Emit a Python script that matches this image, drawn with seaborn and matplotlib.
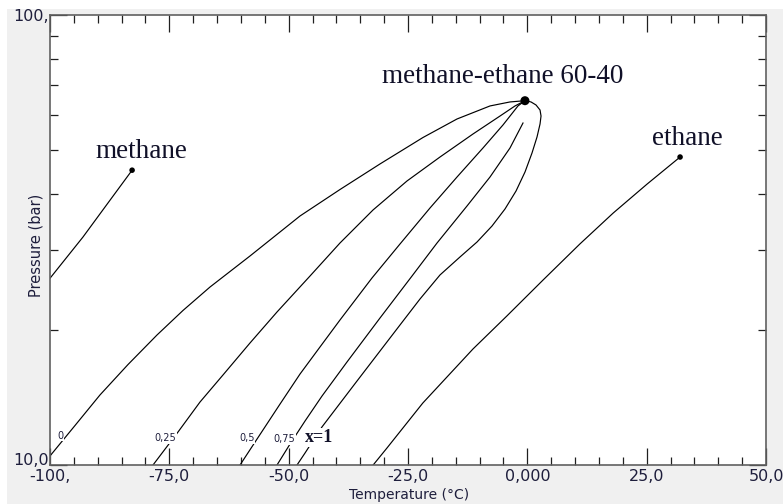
import matplotlib
matplotlib.use("Agg")
import matplotlib.pyplot as plt
import seaborn as sns
from matplotlib.ticker import FixedLocator, FixedFormatter, NullFormatter
from matplotlib.patches import Rectangle

# ---------------- data ----------------
methane_T = [-100.0, -93.1, -87.4, -82.8]
methane_P = [26.0, 32.1, 38.8, 45.2]

ethane_T = [-32.3, -29.4, -21.9, -11.4, -4.3, 3.3, 11.0, 18.0, 25.1, 32.0]
ethane_P = [10.0, 10.91, 13.73, 18.1, 21.43, 25.77, 30.98, 36.31, 42.11, 48.35]

mix_crit_T = -0.5
mix_crit_P = 64.5

q0_T = [-99.85, -94.76, -89.53, -83.66, -77.58, -72.14, -66.48, -58.1, -47.62,
        -39.24, -30.86, -21.86, -14.73, -7.82, -3.63, -0.5]
q0_P = [10.52, 12.24, 14.31, 16.72, 19.45, 22.05, 24.86, 29.14, 35.76,
        40.95, 46.67, 53.43, 58.74, 62.79, 64.09, 64.5]

q25_T = [-78.42, -73.18, -68.58, -63.76, -58.1, -52.44, -45.53, -39.25, -32.33,
         -25.21, -18.3, -11.38, -5.72, -2.58, -0.5]
q25_P = [10.0, 11.84, 13.8, 15.85, 18.67, 21.88, 26.3, 31.14, 36.87,
         42.77, 48.35, 54.4, 59.64, 62.79, 64.5]

q50_T = [-60.19, -56.63, -51.81, -47.62, -43.44, -39.25, -32.54, -26.68, -20.39,
         -14.73, -9.29, -5.1, -1.96, -0.5]
q50_P = [10.0, 11.42, 13.66, 15.93, 18.29, 21.0, 26.04, 30.98, 37.25,
         43.65, 50.64, 56.97, 62.79, 64.5]

q75_T = [-52.44, -49.72, -46.58, -43.02, -37.78, -30.86, -24.16, -18.92, -12.64,
         -7.82, -3.63, -0.91]
q75_P = [10.0, 11.13, 12.52, 14.23, 16.94, 21.22, 26.3, 31.14, 37.63,
         43.65, 50.64, 57.54]

q100_T = [-48.25, -46.58, -43.02, -35.68, -26.68, -22.49, -18.3, -14.11, -10.54,
          -7.4, -4.68, -2.37, -0.49, 0.98, 2.03, 2.66, 2.87, 2.66, 1.82, 0.77, -0.5]
q100_P = [10.0, 10.63, 12.15, 15.37, 20.47, 23.38, 26.44, 28.99, 31.3,
          33.97, 37.06, 40.63, 44.78, 49.36, 53.58, 57.25, 59.64, 61.5, 63.1, 64.09, 64.5]

x_ticks = [-100, -75, -50, -25, 0, 25, 50]
x_tick_labels = ["-100,", "-75,0", "-50,0", "-25,0", "0,000", "25,0", "50,0"]
y_ticks = [10, 100]
y_tick_labels = ["10,0", "100,"]

quality_labels = ["0", "0,25", "0,5", "0,75"]
quality_label_T = [-97.9, -75.8, -58.8, -51.0]
quality_label_P = [11.45, 11.3, 11.3, 11.25]

# ---------------- figure ----------------
W, H, DPI = 783, 504, 100
fig = plt.figure(figsize=(W / DPI, H / DPI), dpi=DPI, facecolor="#f0f0f0")
fig.patches.append(Rectangle((0, 1 - 9 / H), 1, 9 / H, transform=fig.transFigure,
                             facecolor="white", edgecolor="none", zorder=-5))
fig.patches.append(Rectangle((0, 0), 7 / W, 1, transform=fig.transFigure,
                             facecolor="white", edgecolor="none", zorder=-5))

ax = fig.add_axes([50 / W, 1 - 465 / H, 716 / W, 450 / H])
ax.set_facecolor("white")

line_kw = dict(color="black", linewidth=0.85, sort=False, estimator=None, ax=ax)
for T, P in [(methane_T, methane_P), (ethane_T, ethane_P), (q0_T, q0_P),
             (q25_T, q25_P), (q50_T, q50_P), (q75_T, q75_P), (q100_T, q100_P)]:
    sns.lineplot(x=T, y=P, **line_kw)

sns.scatterplot(x=[methane_T[-1], ethane_T[-1]], y=[methane_P[-1], ethane_P[-1]],
                color="black", s=16, edgecolor="none", ax=ax, zorder=5)
sns.scatterplot(x=[mix_crit_T], y=[mix_crit_P], color="black", s=42,
                edgecolor="none", ax=ax, zorder=5)

ax.set_yscale("log")
ax.set_xlim(-100, 50)
ax.set_ylim(10, 100)

ax.xaxis.set_major_locator(FixedLocator(x_ticks))
ax.xaxis.set_major_formatter(FixedFormatter(x_tick_labels))
ax.xaxis.set_minor_locator(FixedLocator([v for v in range(-95, 50, 5) if v % 25 != 0]))
ax.yaxis.set_major_locator(FixedLocator(y_ticks))
ax.yaxis.set_major_formatter(FixedFormatter(y_tick_labels))
ax.yaxis.set_minor_locator(FixedLocator([20, 30, 40, 50, 60, 70, 80, 90]))
ax.yaxis.set_minor_formatter(NullFormatter())

lab_col = "#1e1e3c"
ax.tick_params(which="both", direction="in", top=True, right=True,
               color="#202020", width=0.9, labelcolor=lab_col, labelsize=11.5)
ax.tick_params(which="major", length=12.5)
ax.tick_params(which="minor", length=6)
ax.tick_params(axis="x", which="major", pad=3.2)
ax.tick_params(axis="y", which="major", pad=26.6)
ylabs = ax.get_yticklabels()
for lab in ylabs:
    lab.set_horizontalalignment("left")
ylabs[0].set_verticalalignment("baseline")

for sp in ax.spines.values():
    sp.set_color("#606060")
    sp.set_linewidth(1.2)

ax.set_xlabel("Temperature (°C)", fontsize=10, color=lab_col)
ax.xaxis.set_label_coords(0.502, -0.0515)
ax.set_ylabel("Pressure (bar)", fontsize=10.5, color=lab_col)
ax.yaxis.set_label_coords(-0.0095, 0.489)

serif = "Liberation Serif"
tcol = "#101028"
ax.text(-80.8, 48.1, "methane", family=serif, fontsize=19.5, color=tcol,
        ha="center", va="baseline")
ax.text(-5.2, 70.5, "methane-ethane 60-40", family=serif, fontsize=19.5, color=tcol,
        ha="center", va="baseline")
ax.text(33.45, 51.4, "ethane", family=serif, fontsize=19.5, color=tcol,
        ha="center", va="baseline")

for lab, t, p in zip(quality_labels, quality_label_T, quality_label_P):
    ax.text(t, p, lab, fontsize=7, color=lab_col, ha="center", va="baseline",
            bbox=dict(facecolor="white", edgecolor="none", pad=0.6), zorder=6)
ax.text(-43.65, 11.25, "x=1", family=serif, fontsize=13, fontweight="bold",
        color=tcol, ha="center", va="baseline",
        bbox=dict(facecolor="white", edgecolor="none", pad=0.6), zorder=6)

fig.savefig("out.png", dpi=DPI, facecolor=fig.get_facecolor())
